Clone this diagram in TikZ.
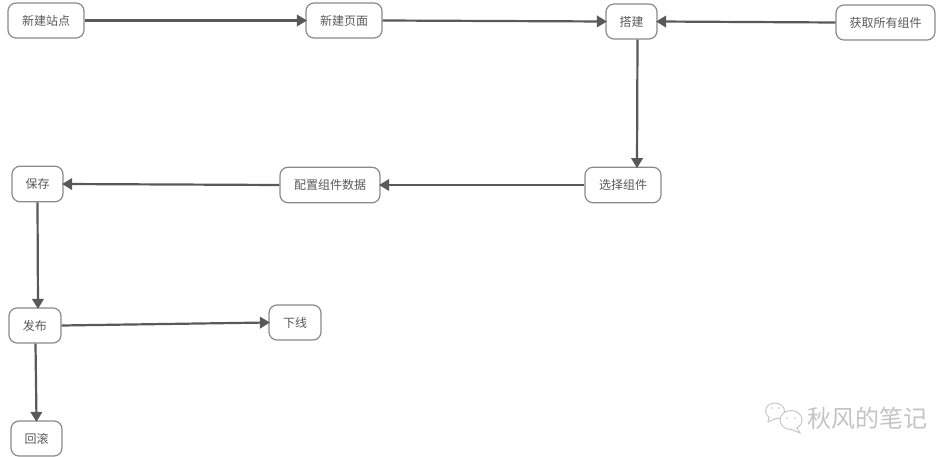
\documentclass[tikz,border=0pt]{standalone}
\usepackage{fontspec}
\setmainfont{Noto Sans CJK SC}
\usetikzlibrary{arrows.meta}
\definecolor{inkgray}{HTML}{595959}
\definecolor{edgegray}{HTML}{8A8A8A}
\definecolor{markgray}{HTML}{C4C4C4}
\tikzset{
  x=1pt,y=-1pt,
  stepbox/.style={draw=edgegray,line width=1.2pt,rounded corners=8pt,fill=white,
    inner sep=0pt,minimum height=35pt,text=inkgray,font=\fontsize{12pt}{14pt}\selectfont},
  link/.style={draw=inkgray,line width=2.2pt,-{Triangle[length=10pt,width=11.5pt]},shorten >=-1.5pt},
  bubble/.style={draw=markgray,line width=0.9pt,fill=white}
}
\begin{document}
\begin{tikzpicture}
\useasboundingbox (0,0) rectangle (951,457);
% flow steps
\node[stepbox,minimum width=76pt] (site) at (46,20.5) {新建站点};
\node[stepbox,minimum width=76pt] (page) at (344,20.5) {新建页面};
\node[stepbox,minimum width=51pt] (build) at (631.5,21.5) {搭建};
\node[stepbox,minimum width=99pt] (fetch) at (885.5,22.5) {获取所有组件};
\node[stepbox,minimum width=76pt,minimum height=35.5pt] (pick) at (623,185) {选择组件};
\node[stepbox,minimum width=100pt,minimum height=35.5pt] (config) at (330,185) {配置组件数据};
\node[stepbox,minimum width=51pt,minimum height=35.5pt] (save) at (37.5,184) {保存};
\node[stepbox,minimum width=52pt] (publish) at (35,325.5) {发布};
\node[stepbox,minimum width=52pt] (offline) at (295,322.5) {下线};
\node[stepbox,minimum width=51pt] (rollback) at (36.5,438.5) {回滚};
% connectors
\draw[link] (site.east) -- (page.west);
\draw[link] (page.east) -- (build.west);
\draw[link] (fetch.west) -- (build.east);
\draw[link] ([xshift=6pt]build.south) -- ([xshift=14pt]pick.north);
\draw[link] (pick.west) -- (config.east);
\draw[link] (config.west) -- (save.east);
\draw[link] (save.south) -- ([xshift=3pt]publish.north);
\draw[link] (publish.east) -- (offline.west);
\draw[link] ([xshift=0.5pt]publish.south) -- (rollback.north);
% account mark: two chat bubbles and the account name
\draw[bubble] (775,411) ellipse (9.5 and 8);
\draw[bubble] (769,417) -- (768,422) -- (775,419);
\draw[bubble] (791,420) ellipse (11 and 9.5);
\draw[bubble] (797,428) -- (800,433) -- (790,429);
\fill[markgray] (772,408) circle (0.9) (779,408) circle (0.9) (787,418) circle (0.9) (795,418) circle (0.9);
\node[text=markgray,font=\fontsize{24pt}{26pt}\selectfont,inner sep=0pt] (account) at (867,418) {秋风的笔记};
\end{tikzpicture}
\end{document}
